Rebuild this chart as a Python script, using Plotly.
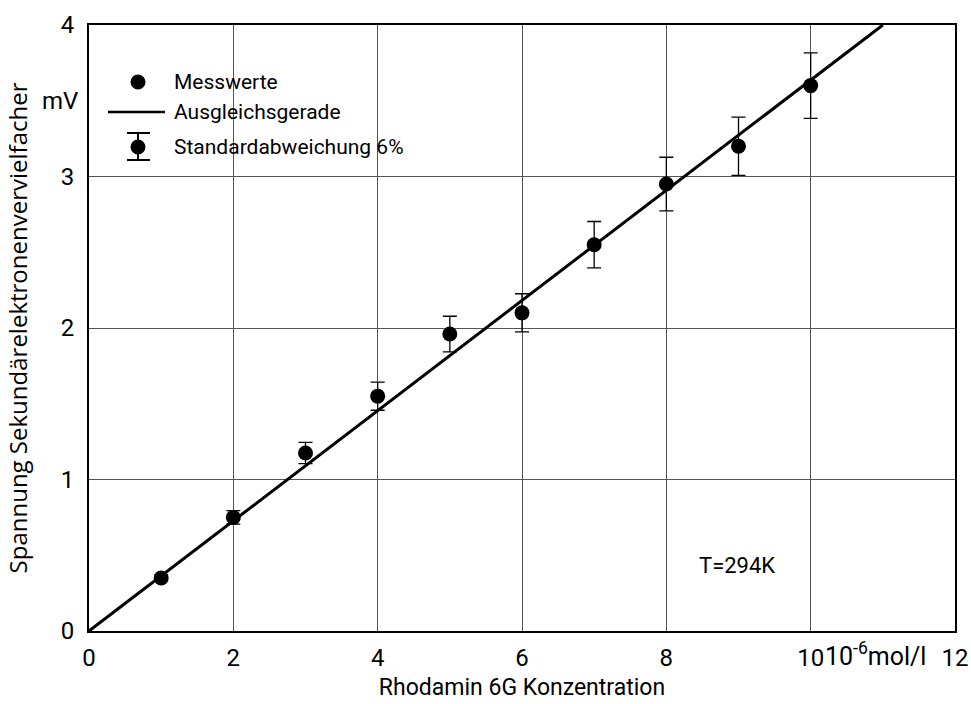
import plotly.graph_objects as go

# Messwerte: Rhodamin 6G concentration (10^-6 mol/l) vs. multiplier voltage (mV)
konzentration = [1, 2, 3, 4, 5, 6, 7, 8, 9, 10]
spannung = [0.35, 0.75, 1.175, 1.55, 1.96, 2.10, 2.55, 2.95, 3.20, 3.60]
fehler_prozent = 6

# Ausgleichsgerade endpoints
gerade_x = [0, 11]
gerade_y = [0.0, 4.0]

x_ticks = [0, 2, 4, 6, 8, 10, 12]
y_ticks = [0, 1, 2, 3, 4]

DIN = "Roboto"
ML, MR, MT, MB = 89, 16, 25, 73
W, H = 971, 704
PW, PH = W - ML - MR, H - MT - MB


def px(x):
    return (x - ML) / PW


def py(y):
    return (H - MB - y) / PH


fig = go.Figure()

fig.add_trace(go.Scatter(
    x=gerade_x, y=gerade_y, mode="lines",
    line=dict(color="black", width=3), showlegend=False, hoverinfo="skip",
))
fig.add_trace(go.Scatter(
    x=konzentration, y=spannung, mode="markers",
    marker=dict(color="black", size=15),
    error_y=dict(type="percent", value=fehler_prozent, color="black",
                 thickness=1.3, width=7),
    showlegend=False,
))

shapes = []
# legend: Messwerte
lx, ly1, ly2, ly3 = px(138), py(82), py(112), py(147)
r = 7.5
shapes.append(dict(type="circle", xref="paper", yref="paper",
                   xsizemode="pixel", ysizemode="pixel",
                   xanchor=lx, yanchor=ly1, x0=-r, x1=r, y0=-r, y1=r,
                   fillcolor="black", line=dict(width=0)))
# legend: Ausgleichsgerade
shapes.append(dict(type="line", xref="paper", yref="paper",
                   x0=px(108), x1=px(165), y0=ly2, y1=ly2,
                   line=dict(color="black", width=2.5)))
# legend: Standardabweichung
shapes.append(dict(type="circle", xref="paper", yref="paper",
                   xsizemode="pixel", ysizemode="pixel",
                   xanchor=lx, yanchor=ly3, x0=-r, x1=r, y0=-r, y1=r,
                   fillcolor="black", line=dict(width=0)))
shapes.append(dict(type="line", xref="paper", yref="paper",
                   x0=lx, x1=lx, y0=py(133), y1=py(160),
                   line=dict(color="black", width=2)))
for yy in (133, 160):
    shapes.append(dict(type="line", xref="paper", yref="paper",
                       x0=px(127), x1=px(150), y0=py(yy), y1=py(yy),
                       line=dict(color="black", width=2)))

annotations = []
for txt, yy in (("Messwerte", ly1), ("Ausgleichsgerade", ly2),
                ("Standardabweichung 6%", ly3)):
    annotations.append(dict(text=txt, xref="paper", yref="paper",
                            x=px(172), y=yy, xanchor="left", yanchor="middle",
                            showarrow=False,
                            font=dict(family=DIN, size=21, color="black")))

annotations.append(dict(text="mV", xref="paper", yref="y", x=px(80), y=3.5,
                        xanchor="right", yanchor="middle", showarrow=False,
                        font=dict(family=DIN, size=24, color="black")))
annotations.append(dict(text="T=294K", xref="x", yref="y", x=8.98, y=0.43,
                        xanchor="center", yanchor="middle", showarrow=False,
                        font=dict(family=DIN, size=22, color="black")))
annotations.append(dict(text="10<sup>-6</sup>mol/l", xref="x", yref="paper",
                        x=10.9, y=py(654), xanchor="center", yanchor="middle",
                        showarrow=False,
                        font=dict(family=DIN, size=25, color="black")))

fig.update_layout(
    width=W, height=H,
    margin=dict(l=ML, r=MR, t=MT, b=MB, autoexpand=False),
    paper_bgcolor="white", plot_bgcolor="white",
    showlegend=False,
    shapes=shapes, annotations=annotations,
    xaxis=dict(
        range=[0, 12], tickvals=x_ticks, ticktext=[str(v) for v in x_ticks],
        showgrid=True, gridcolor="#555555", gridwidth=1,
        showline=True, linecolor="black", linewidth=2, mirror=True,
        ticks="", zeroline=False, automargin=False, ticklabelstandoff=4,
        tickfont=dict(family=DIN, size=24, color="black"),
        title=dict(text="Rhodamin 6G Konzentration",
                   font=dict(family=DIN, size=23, color="black"), standoff=8),
    ),
    yaxis=dict(
        range=[0, 4], tickvals=y_ticks,
        showgrid=True, gridcolor="#555555", gridwidth=1,
        showline=True, linecolor="black", linewidth=2, mirror=True,
        ticks="", zeroline=False, automargin=False, ticklabelstandoff=8,
        tickfont=dict(family=DIN, size=24, color="black"),
        title=dict(text="Spannung Sekundärelektronenvervielfacher",
                   font=dict(family="Open Sans", size=24, color="black"),
                   standoff=26),
    ),
)

fig.write_html("out.html")
